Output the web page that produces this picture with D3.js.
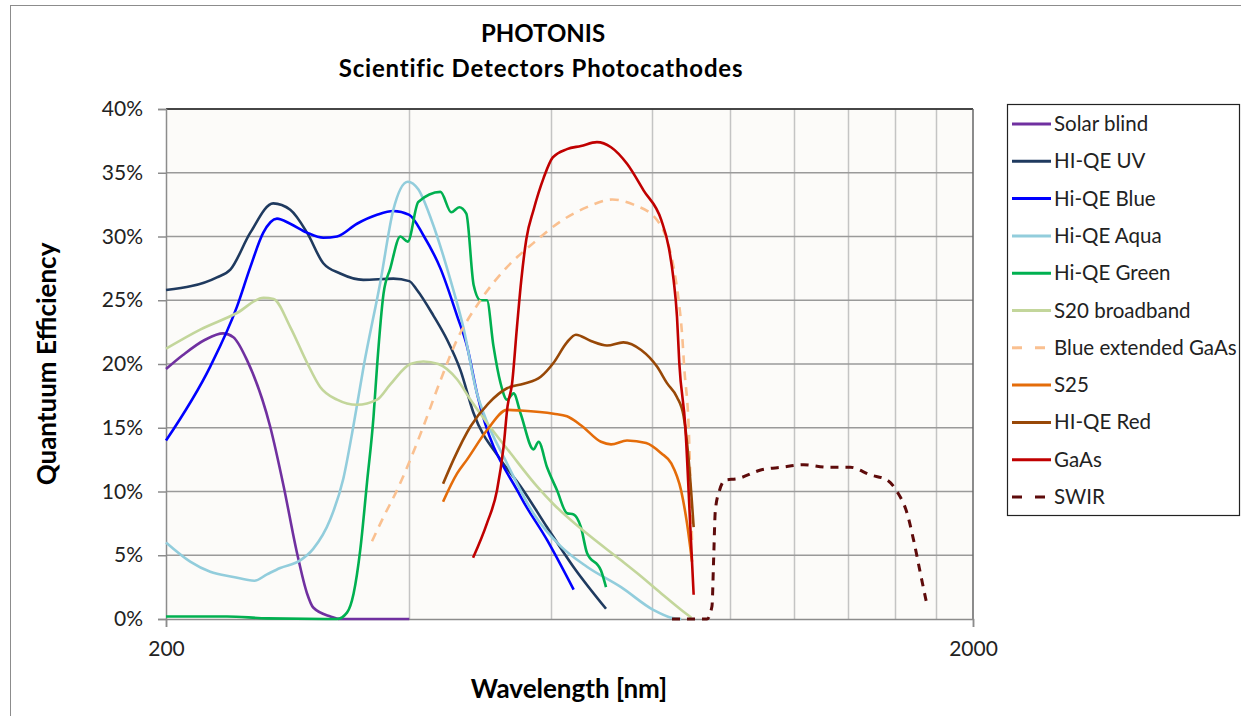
<!DOCTYPE html>
<html>
<head>
<meta charset="utf-8">
<script src="https://cdn.jsdelivr.net/npm/d3@7"></script>
<style>
  body { margin: 0; background: #fff; }
  svg { font-family: Lato, "Open Sans", sans-serif; }
  .tick text { fill: #222; }
</style>
</head>
<body>
<svg width="1241" height="716"></svg>
<script>
// wavelength [nm], quantum efficiency [%]
const solarBlind = [[200,19.6],[209.9,20.7],[223.6,21.9],[235.4,22.4],[242.4,22.1],[252,20.3],
  [269.2,15.1],[279.8,10.4],[290.6,5.2],[299.1,2.0],[304.4,0.9],[319.7,0.2],[328.8,0],[400.4,0]];
const hiqeUV = [[200,25.8],[231.3,26.8],[240.3,27.4],[254.4,30.3],[271.6,32.6],[285.1,32.1],
  [299.1,30.3],[313.3,27.9],[328.8,27.1],[351.2,26.6],[382.6,26.7],[400.4,26.5],[409.3,25.8],
  [428.9,23.8],[446,21.9],[463.4,19.5],[480.7,16.2],[519.5,12.5],[550.2,10.4],[593.2,7.2],
  [639.4,4.1],[701.9,0.8]];
const hiqeBlue = [[200,14.0],[226.9,19.8],[244.9,24.5],[254.4,27.6],[264,30.3],[274.5,31.4],
  [285.1,31.0],[299.1,30.3],[313.3,29.9],[325.8,30.0],[344.9,31.0],[365.2,31.7],[382.6,32.0],
  [400.4,31.7],[416.8,30.1],[437.6,27.5],[458.8,23.8],[472.1,21.4],[485.7,17.7],[550.2,9.6],
  [593.2,6.2],[640,2.3]];
const hiqeAqua = [[200,6.0],[214.3,4.5],[226.9,3.7],[242.4,3.3],[257.3,3.0],[266.8,3.5],
  [277,4.0],[293.3,4.6],[304.4,5.5],[319.5,7.8],[331.7,11.0],[341.3,15.1],[351.5,19.8],
  [368.6,26.4],[382.6,32.1],[398.7,34.3],[410.8,33.7],[426.5,31.3],[450.3,26.6],[467.1,22.9],
  [485.7,17.7],[494.6,16.2],[529.2,12.2],[570.4,8.3],[617,5.7],[664.7,4.1],[732.7,2.5],
  [804,0.7],[845.6,0.1],[870,0]];
const hiqeGreen = [[200,0.2],[238,0.2],[266.8,0.05],[325.8,0],[335.2,0.5],[341.6,2.0],
  [348.1,5.4],[354.9,10.7],[361.6,15.9],[365.2,19.8],[372,25.5],[379.3,27.5],[390.3,30.0],
  [398.7,29.6],[410.8,32.7],[437.6,33.5],[451.4,31.9],[461.8,32.3],[471.2,31.8],[481.1,26.2],
  [490.6,25.0],[499.7,25.0],[509.1,21.4],[519.5,18.5],[529.2,17.2],[539.2,17.7],[550.2,16.1],
  [570.9,13.3],[579,13.9],[593.2,11.9],[610.3,10.1],[627.9,8.3],[640,8.2],[653.4,7.2],
  [664.7,5.2],[691.9,3.8],[701.9,2.5]];
const s20Broadband = [[200,21.2],[220.5,22.7],[244.9,24.0],[264.2,25.2],[271.9,25.1],
  [285.1,22.9],[299.1,20.1],[310.5,18.2],[325.8,17.2],[344.9,16.8],[365.2,17.2],[379.3,18.4],
  [401.6,20.0],[416.8,20.2],[435,20.0],[458.8,18.8],[476.8,17.2],[499.7,15.4],[534.6,13.0],
  [576.5,10.4],[604.4,9.0],[664.7,6.7],[732.7,4.6],[766.8,3.6],[821.7,2.0],[870.2,0.7],
  [895.5,0.1]];
const blueExtGaAs = [[360,6.1],[372,8.0],[386.6,10.1],[401.6,12.5],[416.8,15.1],[437.6,18.7],
  [458.8,21.9],[490.6,25.0],[529.2,27.6],[570.9,29.5],[617,31.2],[664.7,32.3],[714.5,32.9],
  [759.4,32.5],[811.8,31.3],[835.3,29.7],[851.2,27.6],[863.5,25.0],[871.9,22.4],[877.7,19.6],
  [888.5,15.1],[897.1,6.2]];
const s25 = [[440.9,9.2],[458.8,11.4],[472.1,12.5],[499.7,14.8],[529.2,16.4],[550.2,16.35],
  [604.4,16.1],[627.9,15.9],[653.4,15.2],[691.9,13.9],[712,13.7],[745.3,14.0],[787.1,13.8],
  [821.7,13.0],[845.6,12.2],[870.2,10.0],[884.4,7.5],[897.1,4.5]];
const hiqeRed = [[440.9,10.6],[454.3,12.5],[476.8,15.1],[501.6,16.9],[529.2,18.1],[554.9,18.45],
  [582.6,19.0],[604.4,20.1],[627.9,21.7],[644.1,22.3],[672.4,21.8],[703.9,21.45],[737.5,21.7],
  [775.9,21.1],[811.8,19.8],[835.3,18.5],[859.5,17.4],[875.9,15.9],[888.5,12.5],[901.3,7.2]];
const gaAs = [[480.3,4.8],[499.7,7.5],[514.3,10.1],[524,13.5],[530,16.7],[536.7,18.4],
  [544.4,22.9],[551.2,26.6],[559.2,29.8],[570.9,32.1],[587.5,34.6],[603,36.2],[627.9,36.85],
  [653.4,37.1],[684,37.4],[712,37.0],[745.3,35.7],[781.6,33.6],[821.7,31.3],[839.2,29.2],
  [851.2,26.6],[859.5,23.7],[865.1,20.1],[880.1,15.1],[892.8,7.2],[901.3,1.9]];
const swir = [[847.3,0],[936.3,0],[949.7,1.0],[954.1,4.6],[958.8,8.5],[970.5,10.1],[986.5,10.9],
  [1020,11.0],[1094,11.7],[1158,11.9],[1233.5,12.1],[1319,11.9],[1409.4,11.9],[1491.9,11.3],
  [1565,10.9],[1610,10.0],[1657,8.3],[1688,6.2],[1721,3.6],[1754,1.1]];

const seriesNames = ['Solar blind','HI-QE UV','Hi-QE Blue','Hi-QE Aqua','Hi-QE Green',
  'S20 broadband','Blue extended GaAs','S25','HI-QE Red','GaAs','SWIR'];
const seriesData = [solarBlind, hiqeUV, hiqeBlue, hiqeAqua, hiqeGreen, s20Broadband,
  blueExtGaAs, s25, hiqeRed, gaAs, swir];
const seriesColors = ['#7030A0','#1F3A5F','#0000FF','#92CDDC','#00B050','#C3D69B',
  '#FAC090','#E46C0A','#984807','#C00000','#5E0B0B'];
const seriesDash = [null,null,null,null,null,null,'9,7',null,null,null,'8,7'];

const yTicks = [0,5,10,15,20,25,30,35,40];
const xLabels = [200,2000];
const xGrid = [400,600,800,1000,1200,1400,1600,1800];

const svg = d3.select('svg');
const plotLeft = 166, plotRight = 973, plotTop = 109, plotBottom = 619;

const x = d3.scaleLog().domain([200,2000]).range([plotLeft,plotRight]);
const y = d3.scaleLinear().domain([0,40]).range([plotBottom,plotTop]);

// outer chart frame
svg.append('rect').attr('x',10.5).attr('y',5.5).attr('width',1240).attr('height',720)
  .attr('fill','none').attr('stroke','#8c8c8c');

// titles
svg.append('text').attr('x',543).attr('y',42).attr('text-anchor','middle')
  .attr('font-weight','bold').attr('font-size',24).text('PHOTONIS');
svg.append('text').attr('x',541).attr('y',77).attr('text-anchor','middle')
  .attr('font-weight','bold').attr('font-size',24).attr('letter-spacing',0.8)
  .text('Scientific Detectors Photocathodes');

// plot area
svg.append('rect').attr('x',plotLeft).attr('y',plotTop)
  .attr('width',plotRight-plotLeft).attr('height',plotBottom-plotTop)
  .attr('fill','#FCFBF9');

const grid = svg.append('g');
grid.selectAll('.vg').data(xGrid).enter().append('line')
  .attr('x1',d => Math.round(x(d))+0.5).attr('x2',d => Math.round(x(d))+0.5)
  .attr('y1',plotTop).attr('y2',plotBottom)
  .attr('stroke','#c4c4c4').attr('stroke-width',1.5);
grid.selectAll('.hg').data(yTicks.slice(1)).enter().append('line')
  .attr('x1',plotLeft).attr('x2',plotRight)
  .attr('y1',d => y(d)).attr('y2',d => y(d))
  .attr('stroke','#9a9a9a').attr('stroke-width',1.5);

// plot border
svg.append('line').attr('x1',plotLeft).attr('x2',plotRight).attr('y1',plotTop).attr('y2',plotTop)
  .attr('stroke','#222').attr('stroke-width',1.5);
svg.append('line').attr('x1',plotRight).attr('x2',plotRight).attr('y1',plotTop).attr('y2',plotBottom)
  .attr('stroke','#666').attr('stroke-width',1.5);

// axes
const yAxisG = svg.append('g').attr('transform',`translate(${plotLeft},0)`)
  .call(d3.axisLeft(y).tickValues(yTicks).tickSize(8).tickPadding(15)
    .tickFormat(d => d + '%'));
yAxisG.selectAll('line').attr('stroke','#8c8c8c').attr('stroke-width',1.5);
yAxisG.select('.domain').attr('stroke','#8c8c8c').attr('stroke-width',1.5);
yAxisG.selectAll('text').attr('font-size',21).attr('font-family','Lato, sans-serif');

const xAxisG = svg.append('g').attr('transform',`translate(0,${plotBottom})`)
  .call(d3.axisBottom(x).tickValues(xLabels).tickSize(8).tickPadding(14)
    .tickFormat(d3.format('d')));
xAxisG.selectAll('line').attr('stroke','#8c8c8c').attr('stroke-width',1.5);
xAxisG.select('.domain').attr('stroke','#8c8c8c').attr('stroke-width',1.5);
xAxisG.selectAll('text').attr('font-size',21).attr('font-family','Lato, sans-serif');

// axis titles
svg.append('text').attr('x',569).attr('y',698).attr('text-anchor','middle')
  .attr('font-weight','bold').attr('font-size',26).text('Wavelength [nm]');
svg.append('text').attr('transform','translate(56,364) rotate(-90)').attr('text-anchor','middle')
  .attr('font-weight','bold').attr('font-size',26).text('Quantuum Efficiency');

// curves
const line = d3.line().x(d => x(d[0])).y(d => y(d[1])).curve(d3.curveMonotoneX);
svg.append('g').selectAll('path').data(seriesData).enter().append('path')
  .attr('d', line)
  .attr('fill','none')
  .attr('stroke',(d,i) => seriesColors[i])
  .attr('stroke-width',(d,i) => i === 10 ? 3 : 2.6)
  .attr('stroke-dasharray',(d,i) => seriesDash[i])
  .attr('stroke-linejoin','round');

// legend
const lg = svg.append('g');
lg.append('rect').attr('x',1007.5).attr('y',104.5).attr('width',232).attr('height',411)
  .attr('fill','#fff').attr('stroke','#222').attr('stroke-width',1.2);
const items = lg.selectAll('.item').data(seriesNames).enter().append('g')
  .attr('transform',(d,i) => `translate(0,${124 + i*37.3})`);
items.append('line').attr('x1',1012).attr('x2',1051).attr('y1',0).attr('y2',0)
  .attr('stroke',(d,i) => seriesColors[i])
  .attr('stroke-width',3)
  .attr('stroke-dasharray',(d,i) => seriesDash[i] ? '10,13' : null);
items.append('text').attr('x',1054).attr('y',7).attr('font-size',20.5).attr('fill','#222')
  .text(d => d);
</script>
</body>
</html>
